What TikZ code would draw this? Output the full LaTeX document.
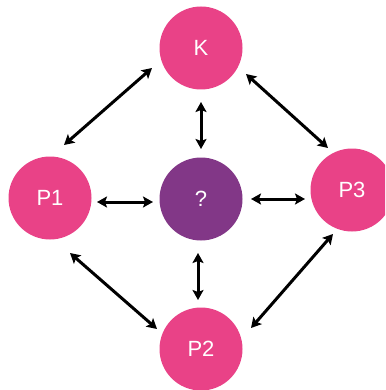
\documentclass[tikz,border=0pt]{standalone}
\usepackage{fontspec}
\setmainfont{Liberation Sans}
\usetikzlibrary{arrows.meta}
\definecolor{kpink}{RGB}{233,66,135}
\definecolor{kpurple}{RGB}{130,55,135}
\tikzset{
  bubble/.style={circle, fill=#1, minimum size=83pt, inner sep=0pt, text=white, font=\fontsize{22}{26}\selectfont},
  link/.style={line width=3pt, {Stealth[length=10pt,width=11pt,inset=2pt]}-{Stealth[length=10pt,width=11pt,inset=2pt]}}
}
\begin{document}
\begin{tikzpicture}[x=1pt,y=-1pt]
\useasboundingbox (0,0) rectangle (385,390);
\clip (0,0) rectangle (385,390);
\fill[white] (0,0) rectangle (385,390);
\node[bubble=kpink] (K) at (201,48) {K};
\node[bubble=kpink] (P1) at (50,198) {P1};
\node[bubble=kpurple] (Q) at (201,199) {?};
\node[bubble=kpink] (P3) at (352,190) {P3};
\node[bubble=kpink] (P2) at (201,349) {P2};
% arrow end points
\coordinate (kp1a) at (152,68);  \coordinate (kp1b) at (64,145);
\coordinate (kp3a) at (246,74);  \coordinate (kp3b) at (328,148);
\coordinate (kqa) at (201,102);  \coordinate (kqb) at (201,149);
\coordinate (p1qa) at (97,202);  \coordinate (p1qb) at (153,202);
\coordinate (qp3a) at (251,199); \coordinate (qp3b) at (305,199);
\coordinate (qp2a) at (198,253); \coordinate (qp2b) at (198,300);
\coordinate (p1p2a) at (70,253); \coordinate (p1p2b) at (157,329);
\coordinate (p3p2a) at (333,234); \coordinate (p3p2b) at (251,328);
\draw[link] (kp1a) -- (kp1b);
\draw[link] (kp3a) -- (kp3b);
\draw[link] (kqa) -- (kqb);
\draw[link] (p1qa) -- (p1qb);
\draw[link] (qp3a) -- (qp3b);
\draw[link] (qp2a) -- (qp2b);
\draw[link] (p1p2a) -- (p1p2b);
\draw[link] (p3p2a) -- (p3p2b);
\end{tikzpicture}
\end{document}
